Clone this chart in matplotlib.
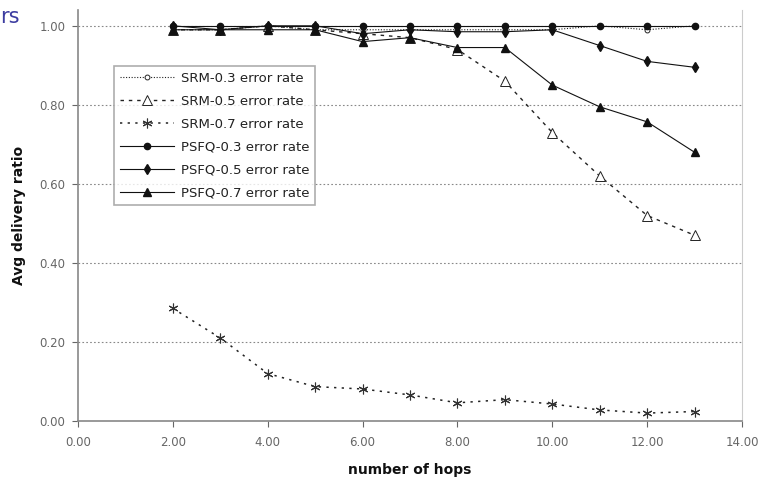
import matplotlib
matplotlib.use("Agg")
import matplotlib.pyplot as plt

# hop counts and delivery ratios
hops = [2, 3, 4, 5, 6, 7, 8, 9, 10, 11, 12, 13]
srm_03 = [0.99, 0.99, 1.00, 0.99, 0.99, 0.99, 0.99, 0.99, 0.99, 1.00, 0.99, 1.00]
srm_05 = [0.99, 0.99, 1.00, 0.99, 0.98, 0.97, 0.94, 0.86, 0.73, 0.62, 0.52, 0.47]
srm_07 = [0.285, 0.21, 0.12, 0.087, 0.081, 0.066, 0.046, 0.054, 0.043, 0.028, 0.020, 0.024]
psfq_03 = [1.00, 1.00, 1.00, 1.00, 1.00, 1.00, 1.00, 1.00, 1.00, 1.00, 1.00, 1.00]
psfq_05 = [1.00, 0.99, 1.00, 1.00, 0.98, 0.99, 0.985, 0.985, 0.99, 0.95, 0.91, 0.895]
psfq_07 = [0.99, 0.99, 0.99, 0.99, 0.96, 0.97, 0.945, 0.945, 0.85, 0.795, 0.757, 0.68]

labels = ["SRM-0.3 error rate", "SRM-0.5 error rate", "SRM-0.7 error rate",
          "PSFQ-0.3 error rate", "PSFQ-0.5 error rate", "PSFQ-0.7 error rate"]
x_ticks = [0, 2, 4, 6, 8, 10, 12, 14]
y_ticks = [0.0, 0.2, 0.4, 0.6, 0.8, 1.0]

plt.rcParams['font.family'] = ['DejaVu Sans']

fig = plt.figure(figsize=(7.63, 4.82), dpi=100)
ax = fig.add_axes([78 / 763, 1 - 421 / 482, 664 / 763, 411 / 482])

ax.plot(hops, srm_03, color='#222222', lw=0.8, ls=(0, (1, 1.5)), marker='o',
        ms=3.5, mfc='white', mec='#222222', mew=0.7, label=labels[0])
ax.plot(hops, srm_05, color='#222222', lw=1.0, ls=(0, (2.5, 3.5)), marker='^',
        ms=6.5, mfc='white', mec='#222222', mew=0.7, label=labels[1])
ax.plot(hops, srm_07, color='#222222', lw=1.1, ls=(0, (1.5, 3.5)), marker=(6, 2, 0),
        ms=7, mec='#333333', mew=0.8, label=labels[2])
ax.plot(hops, psfq_03, color='#111111', lw=0.8, marker='o', ms=4.5, label=labels[3])
ax.plot(hops, psfq_05, color='#111111', lw=0.8, marker='d', ms=5, label=labels[4])
ax.plot(hops, psfq_07, color='#111111', lw=0.8, marker='^', ms=5.5, label=labels[5])

ax.set_xlim(0, 14)
ax.set_ylim(0, 1.04)
ax.set_xticks(x_ticks)
ax.set_xticklabels(['%.2f' % v for v in x_ticks])
ax.set_yticks(y_ticks)
ax.set_yticklabels(['%.2f' % v for v in y_ticks])
ax.tick_params(labelsize=8.5, colors='#666666', length=4, width=0.8)
ax.tick_params(axis='x', pad=7)
ax.tick_params(axis='y', pad=5)

for g in y_ticks[1:]:
    ax.axhline(g, color='#888888', lw=0.8, ls=(0, (1.5, 2)), zorder=0)

ax.spines['top'].set_visible(False)
ax.spines['left'].set_color('#888888')
ax.spines['bottom'].set_color('#888888')
ax.spines['right'].set_color('#cccccc')
ax.spines['left'].set_linewidth(1.2)
ax.spines['bottom'].set_linewidth(1.2)

fig.text(410 / 763, 1 - 470 / 482, 'number of hops', ha='center', va='center',
         fontsize=10, fontweight='bold', color='#111111')
fig.text(19 / 763, 1 - 215 / 482, 'Avg delivery ratio', ha='center', va='center',
         rotation=90, fontsize=10, fontweight='bold', color='#111111')
fig.text(0.0, 1 - 17 / 482, 'rs', ha='left', va='center', fontsize=15, color='#3c3ca0')

leg = ax.legend(loc='upper left', bbox_to_anchor=(114 / 763, 1 - 66 / 482),
                bbox_transform=fig.transFigure, fontsize=9.5, frameon=True,
                fancybox=False, edgecolor='#999999', handlelength=4.1,
                handletextpad=0.5, labelspacing=0.75, borderpad=0.45,
                borderaxespad=0)
leg.get_frame().set_linewidth(1.2)
for t in leg.get_texts():
    t.set_color('#222222')

fig.savefig('out.png', dpi=100)
